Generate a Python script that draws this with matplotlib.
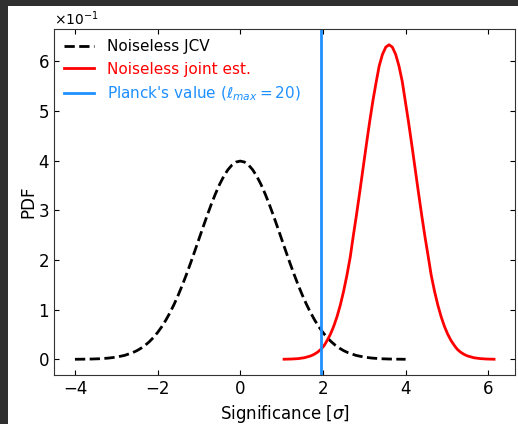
import matplotlib
matplotlib.use("Agg")
import matplotlib.pyplot as plt
from matplotlib.patches import Rectangle

# Noiseless JCV (black dashed)
jcv_x = [-4.0, -3.8, -3.6, -3.4, -3.2, -3.0, -2.8, -2.6, -2.5, -2.4, -2.3, -2.2, -2.1, -2.0,
         -1.9, -1.8, -1.7, -1.6, -1.5, -1.4, -1.3, -1.2, -1.1, -1.0, -0.9, -0.8, -0.7,
         -0.6, -0.5, -0.4, -0.3, -0.2, -0.1, 0.0,
         0.1, 0.2, 0.3, 0.4, 0.5, 0.6, 0.7, 0.8, 0.9, 1.0, 1.1, 1.2, 1.3,
         1.4, 1.5, 1.6, 1.7, 1.8, 1.9, 2.0, 2.1, 2.2, 2.3, 2.4, 2.5, 2.6,
         2.8, 3.0, 3.2, 3.4, 3.6, 3.8, 4.0]
jcv_y = [0.0001, 0.0003, 0.0006, 0.0012, 0.0024, 0.0044, 0.0079, 0.0136, 0.0175, 0.0224, 0.0283, 0.0355, 0.0440, 0.0540,
         0.0656, 0.0790, 0.0940, 0.1109, 0.1295, 0.1497, 0.1714, 0.1942, 0.2179, 0.2420, 0.2661, 0.2897, 0.3123,
         0.3332, 0.3521, 0.3683, 0.3814, 0.3910, 0.3970, 0.3989,
         0.3970, 0.3910, 0.3814, 0.3683, 0.3521, 0.3332, 0.3123, 0.2897, 0.2661, 0.2420, 0.2179, 0.1942, 0.1714,
         0.1497, 0.1295, 0.1109, 0.0940, 0.0790, 0.0656, 0.0540, 0.0440, 0.0355, 0.0283, 0.0224, 0.0175, 0.0136,
         0.0079, 0.0044, 0.0024, 0.0012, 0.0006, 0.0003, 0.0001]

# Noiseless joint estimate (red)
joint_x = [1.06, 1.24, 1.40, 1.55, 1.71, 1.79, 1.87, 1.95, 2.03, 2.10, 2.18, 2.26,
           2.34, 2.42, 2.50, 2.58, 2.66, 2.73, 2.81, 2.89, 2.97, 3.05, 3.13, 3.21,
           3.29, 3.36, 3.44, 3.52, 3.60, 3.68, 3.76, 3.84, 3.92, 3.99, 4.07, 4.15,
           4.23, 4.31, 4.39, 4.47, 4.55, 4.62, 4.70, 4.78, 4.86, 4.94, 5.02, 5.10,
           5.18, 5.25, 5.33, 5.41, 5.49, 5.65, 5.81, 5.96, 6.14]
joint_y = [0.0002, 0.0006, 0.0014, 0.0032, 0.0070, 0.0102, 0.0144, 0.0202, 0.0278, 0.0377, 0.0504, 0.0662,
           0.0857, 0.1091, 0.1369, 0.1691, 0.2055, 0.2460, 0.2898, 0.3362, 0.3839, 0.4317, 0.4778, 0.5208,
           0.5586, 0.5900, 0.6135, 0.6281, 0.6330, 0.6281, 0.6135, 0.5900, 0.5586, 0.5208, 0.4778, 0.4317,
           0.3839, 0.3362, 0.2898, 0.2460, 0.2055, 0.1691, 0.1369, 0.1091, 0.0857, 0.0662, 0.0504, 0.0377,
           0.0278, 0.0202, 0.0144, 0.0102, 0.0070, 0.0032, 0.0014, 0.0006, 0.0002]

planck_value = 1.95

labels = ["Noiseless JCV", "Noiseless joint est.", r"Planck's value ($\ell_{max} = 20$)"]
colors = ["black", "red", "#1e90ff"]

fig = plt.figure(figsize=(5.18, 4.24), dpi=100)
fig.patch.set_facecolor("white")
# dark frame of the screenshot
fig.patches.append(Rectangle((0, 0), 8 / 518, 1, transform=fig.transFigure,
                             facecolor="#2f2f2f", edgecolor="none", zorder=0))
fig.patches.append(Rectangle((0, 1 - 6 / 424), 1, 6 / 424, transform=fig.transFigure,
                             facecolor="#2f2f2f", edgecolor="none", zorder=0))

ax = fig.add_axes([54 / 518, 49 / 424, 461 / 518, 346 / 424])
ax.plot(jcv_x, jcv_y, ls="--", color=colors[0], lw=2, label=labels[0])
ax.plot(joint_x, joint_y, ls="-", color=colors[1], lw=2, label=labels[1])
ax.axvline(planck_value, color=colors[2], lw=2, label=labels[2])

ax.set_xlabel(r"Significance [$\sigma$]", fontsize=12)
ax.set_ylabel("PDF", fontsize=12, labelpad=0.5)
ax.ticklabel_format(axis="y", style="sci", scilimits=(0, 0), useMathText=True)
ax.yaxis.get_offset_text().set_fontsize(10)
ax.tick_params(direction="in", top=True, right=True, labelsize=12)
for sp in ax.spines.values():
    sp.set_color("#333333")

leg = ax.legend(loc="upper left", frameon=False, fontsize=11, borderaxespad=0.25)
for text, c in zip(leg.get_texts(), colors):
    text.set_color(c)

fig.savefig("out.png", dpi=100)
